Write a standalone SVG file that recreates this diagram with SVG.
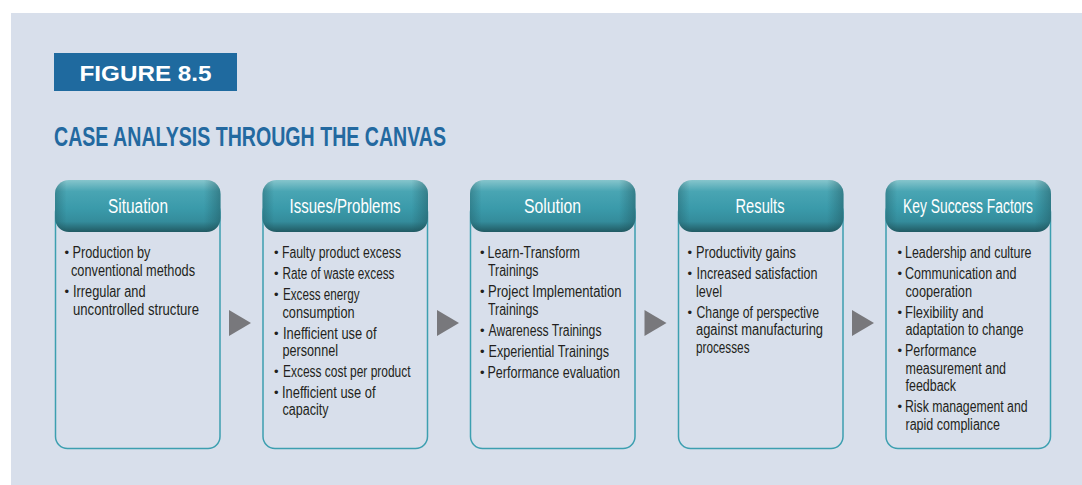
<svg xmlns="http://www.w3.org/2000/svg" width="1082" height="485" viewBox="0 0 1082 485">
<defs>
<linearGradient id="hv" x1="0" y1="0" x2="0" y2="1">
<stop offset="0" stop-color="#86c5cc"/>
<stop offset="0.22" stop-color="#49a5b3"/>
<stop offset="0.55" stop-color="#3a9aaa"/>
<stop offset="0.8" stop-color="#348c9b"/>
<stop offset="1" stop-color="#215a63"/>
</linearGradient>
<linearGradient id="hh" x1="0" y1="0" x2="1" y2="0">
<stop offset="0" stop-color="#1d4f57" stop-opacity="0.35"/>
<stop offset="0.07" stop-color="#1d4f57" stop-opacity="0"/>
<stop offset="0.9" stop-color="#1d4f57" stop-opacity="0"/>
<stop offset="1" stop-color="#1d4f57" stop-opacity="0.45"/>
</linearGradient>
<g id="card">
<rect x="0.5" y="20" width="164.5" height="248.5" rx="12" fill="none" stroke="#3c9fb0" stroke-width="1.5"/>
<rect x="0" y="0" width="165.5" height="52" rx="14" fill="url(#hv)"/>
<rect x="0" y="0" width="165.5" height="52" rx="14" fill="url(#hh)"/>
</g>
</defs>
<style>
.hd{font-family:"Liberation Sans Narrow","Liberation Sans",Arial,sans-serif;font-size:20px;fill:#ffffff;text-anchor:middle}
.tx{font-family:"Liberation Sans Narrow","Liberation Sans",Arial,sans-serif;font-size:16px;fill:#231f20}
.bu{font-family:"Liberation Sans",Arial,sans-serif;font-size:13px;fill:#231f20}
.ar{fill:#78787c}
</style>
<rect x="11" y="13" width="1071" height="472" fill="#d8dfeb"/>
<g id="figure-label">
<rect x="54" y="53" width="183" height="38" fill="#1f6a9f"/>
<text x="79.5" y="81" font-family="Liberation Sans,Arial,sans-serif" font-weight="bold" font-size="22.5" fill="#ffffff" textLength="132" lengthAdjust="spacingAndGlyphs">FIGURE 8.5</text>
</g>
<g id="title">
<text x="54" y="145.5" font-family="Liberation Sans,Arial,sans-serif" font-weight="bold" font-size="27.5" fill="#2369a0" textLength="392" lengthAdjust="spacingAndGlyphs">CASE ANALYSIS THROUGH THE CANVAS</text>
</g>
<g id="connectors">
<polygon class="ar" points="229,310 251,323 229,336"/>
<polygon class="ar" points="437,310 459,323 437,336"/>
<polygon class="ar" points="644.5,310 666.5,323 644.5,336"/>
<polygon class="ar" points="852,310 874,323 852,336"/>
</g>
<g id="situation">
<use href="#card" x="55" y="180"/>
<text class="hd" x="138" y="213" textLength="60" lengthAdjust="spacingAndGlyphs">Situation</text>
<text class="bu" x="64.5" y="257">•</text>
<text class="tx" x="72.5" y="258" textLength="78" lengthAdjust="spacingAndGlyphs">Production by</text>
<text class="tx" x="71" y="275.5" textLength="124" lengthAdjust="spacingAndGlyphs">conventional methods</text>
<text class="bu" x="64.5" y="296">•</text>
<text class="tx" x="73" y="297" textLength="72.5" lengthAdjust="spacingAndGlyphs">Irregular and</text>
<text class="tx" x="73" y="314.5" textLength="126" lengthAdjust="spacingAndGlyphs">uncontrolled structure</text>
</g>
<g id="issues">
<use href="#card" x="262.5" y="180"/>
<text class="hd" x="345" y="213" textLength="111" lengthAdjust="spacingAndGlyphs">Issues/Problems</text>
<text class="bu" x="274" y="257">•</text>
<text class="tx" x="282" y="258" textLength="119" lengthAdjust="spacingAndGlyphs">Faulty product excess</text>
<text class="bu" x="274" y="278">•</text>
<text class="tx" x="282.5" y="279" textLength="112" lengthAdjust="spacingAndGlyphs">Rate of waste excess</text>
<text class="bu" x="274" y="299">•</text>
<text class="tx" x="283" y="300" textLength="76.5" lengthAdjust="spacingAndGlyphs">Excess energy</text>
<text class="tx" x="282.5" y="317.5" textLength="72" lengthAdjust="spacingAndGlyphs">consumption</text>
<text class="bu" x="274" y="337.5">•</text>
<text class="tx" x="283" y="338.5" textLength="93.5" lengthAdjust="spacingAndGlyphs">Inefficient use of</text>
<text class="tx" x="282.5" y="356" textLength="55.5" lengthAdjust="spacingAndGlyphs">personnel</text>
<text class="bu" x="274" y="375.5">•</text>
<text class="tx" x="283" y="376.5" textLength="127.5" lengthAdjust="spacingAndGlyphs">Excess cost per product</text>
<text class="bu" x="274" y="396.5">•</text>
<text class="tx" x="282" y="397.5" textLength="93.5" lengthAdjust="spacingAndGlyphs">Inefficient use of</text>
<text class="tx" x="282.5" y="415" textLength="46" lengthAdjust="spacingAndGlyphs">capacity</text>
</g>
<g id="solution">
<use href="#card" x="470" y="180"/>
<text class="hd" x="552.5" y="213" textLength="57" lengthAdjust="spacingAndGlyphs">Solution</text>
<text class="bu" x="480" y="257">•</text>
<text class="tx" x="487.5" y="258" textLength="92.5" lengthAdjust="spacingAndGlyphs">Learn-Transform</text>
<text class="tx" x="488" y="275.5" textLength="50.5" lengthAdjust="spacingAndGlyphs">Trainings</text>
<text class="bu" x="480" y="296">•</text>
<text class="tx" x="488" y="297" textLength="133.5" lengthAdjust="spacingAndGlyphs">Project Implementation</text>
<text class="tx" x="488" y="314.5" textLength="50.5" lengthAdjust="spacingAndGlyphs">Trainings</text>
<text class="bu" x="480" y="334.5">•</text>
<text class="tx" x="488.5" y="335.5" textLength="113" lengthAdjust="spacingAndGlyphs">Awareness Trainings</text>
<text class="bu" x="480" y="355.5">•</text>
<text class="tx" x="488.5" y="356.5" textLength="120.5" lengthAdjust="spacingAndGlyphs">Experiential Trainings</text>
<text class="bu" x="480" y="376.5">•</text>
<text class="tx" x="487.5" y="377.5" textLength="132.5" lengthAdjust="spacingAndGlyphs">Performance evaluation</text>
</g>
<g id="results">
<use href="#card" x="678" y="180"/>
<text class="hd" x="760" y="213" textLength="49" lengthAdjust="spacingAndGlyphs">Results</text>
<text class="bu" x="687.5" y="257">•</text>
<text class="tx" x="696" y="258" textLength="100" lengthAdjust="spacingAndGlyphs">Productivity gains</text>
<text class="bu" x="687.5" y="278">•</text>
<text class="tx" x="696.5" y="279" textLength="121" lengthAdjust="spacingAndGlyphs">Increased satisfaction</text>
<text class="tx" x="696" y="296.5" textLength="26" lengthAdjust="spacingAndGlyphs">level</text>
<text class="bu" x="687.5" y="316.5">•</text>
<text class="tx" x="696.5" y="317.5" textLength="122.5" lengthAdjust="spacingAndGlyphs">Change of perspective</text>
<text class="tx" x="696" y="335" textLength="127" lengthAdjust="spacingAndGlyphs">against manufacturing</text>
<text class="tx" x="696" y="352.5" textLength="53.5" lengthAdjust="spacingAndGlyphs">processes</text>
</g>
<g id="key-success-factors">
<use href="#card" x="885.5" y="180"/>
<text class="hd" x="968" y="213" textLength="130" lengthAdjust="spacingAndGlyphs">Key Success Factors</text>
<text class="bu" x="897.5" y="257">•</text>
<text class="tx" x="905" y="258" textLength="126.5" lengthAdjust="spacingAndGlyphs">Leadership and culture</text>
<text class="bu" x="897.5" y="278">•</text>
<text class="tx" x="905" y="279" textLength="111.5" lengthAdjust="spacingAndGlyphs">Communication and</text>
<text class="tx" x="905.5" y="296.5" textLength="66.5" lengthAdjust="spacingAndGlyphs">cooperation</text>
<text class="bu" x="897.5" y="316.5">•</text>
<text class="tx" x="905" y="317.5" textLength="78.5" lengthAdjust="spacingAndGlyphs">Flexibility and</text>
<text class="tx" x="905.5" y="335" textLength="118" lengthAdjust="spacingAndGlyphs">adaptation to change</text>
<text class="bu" x="897.5" y="355">•</text>
<text class="tx" x="905" y="356" textLength="71.5" lengthAdjust="spacingAndGlyphs">Performance</text>
<text class="tx" x="905.5" y="373.5" textLength="100.5" lengthAdjust="spacingAndGlyphs">measurement and</text>
<text class="tx" x="905.5" y="391" textLength="50.5" lengthAdjust="spacingAndGlyphs">feedback</text>
<text class="bu" x="897.5" y="411">•</text>
<text class="tx" x="905" y="412" textLength="122.5" lengthAdjust="spacingAndGlyphs">Risk management and</text>
<text class="tx" x="905.5" y="429.5" textLength="94.5" lengthAdjust="spacingAndGlyphs">rapid compliance</text>
</g>
</svg>
